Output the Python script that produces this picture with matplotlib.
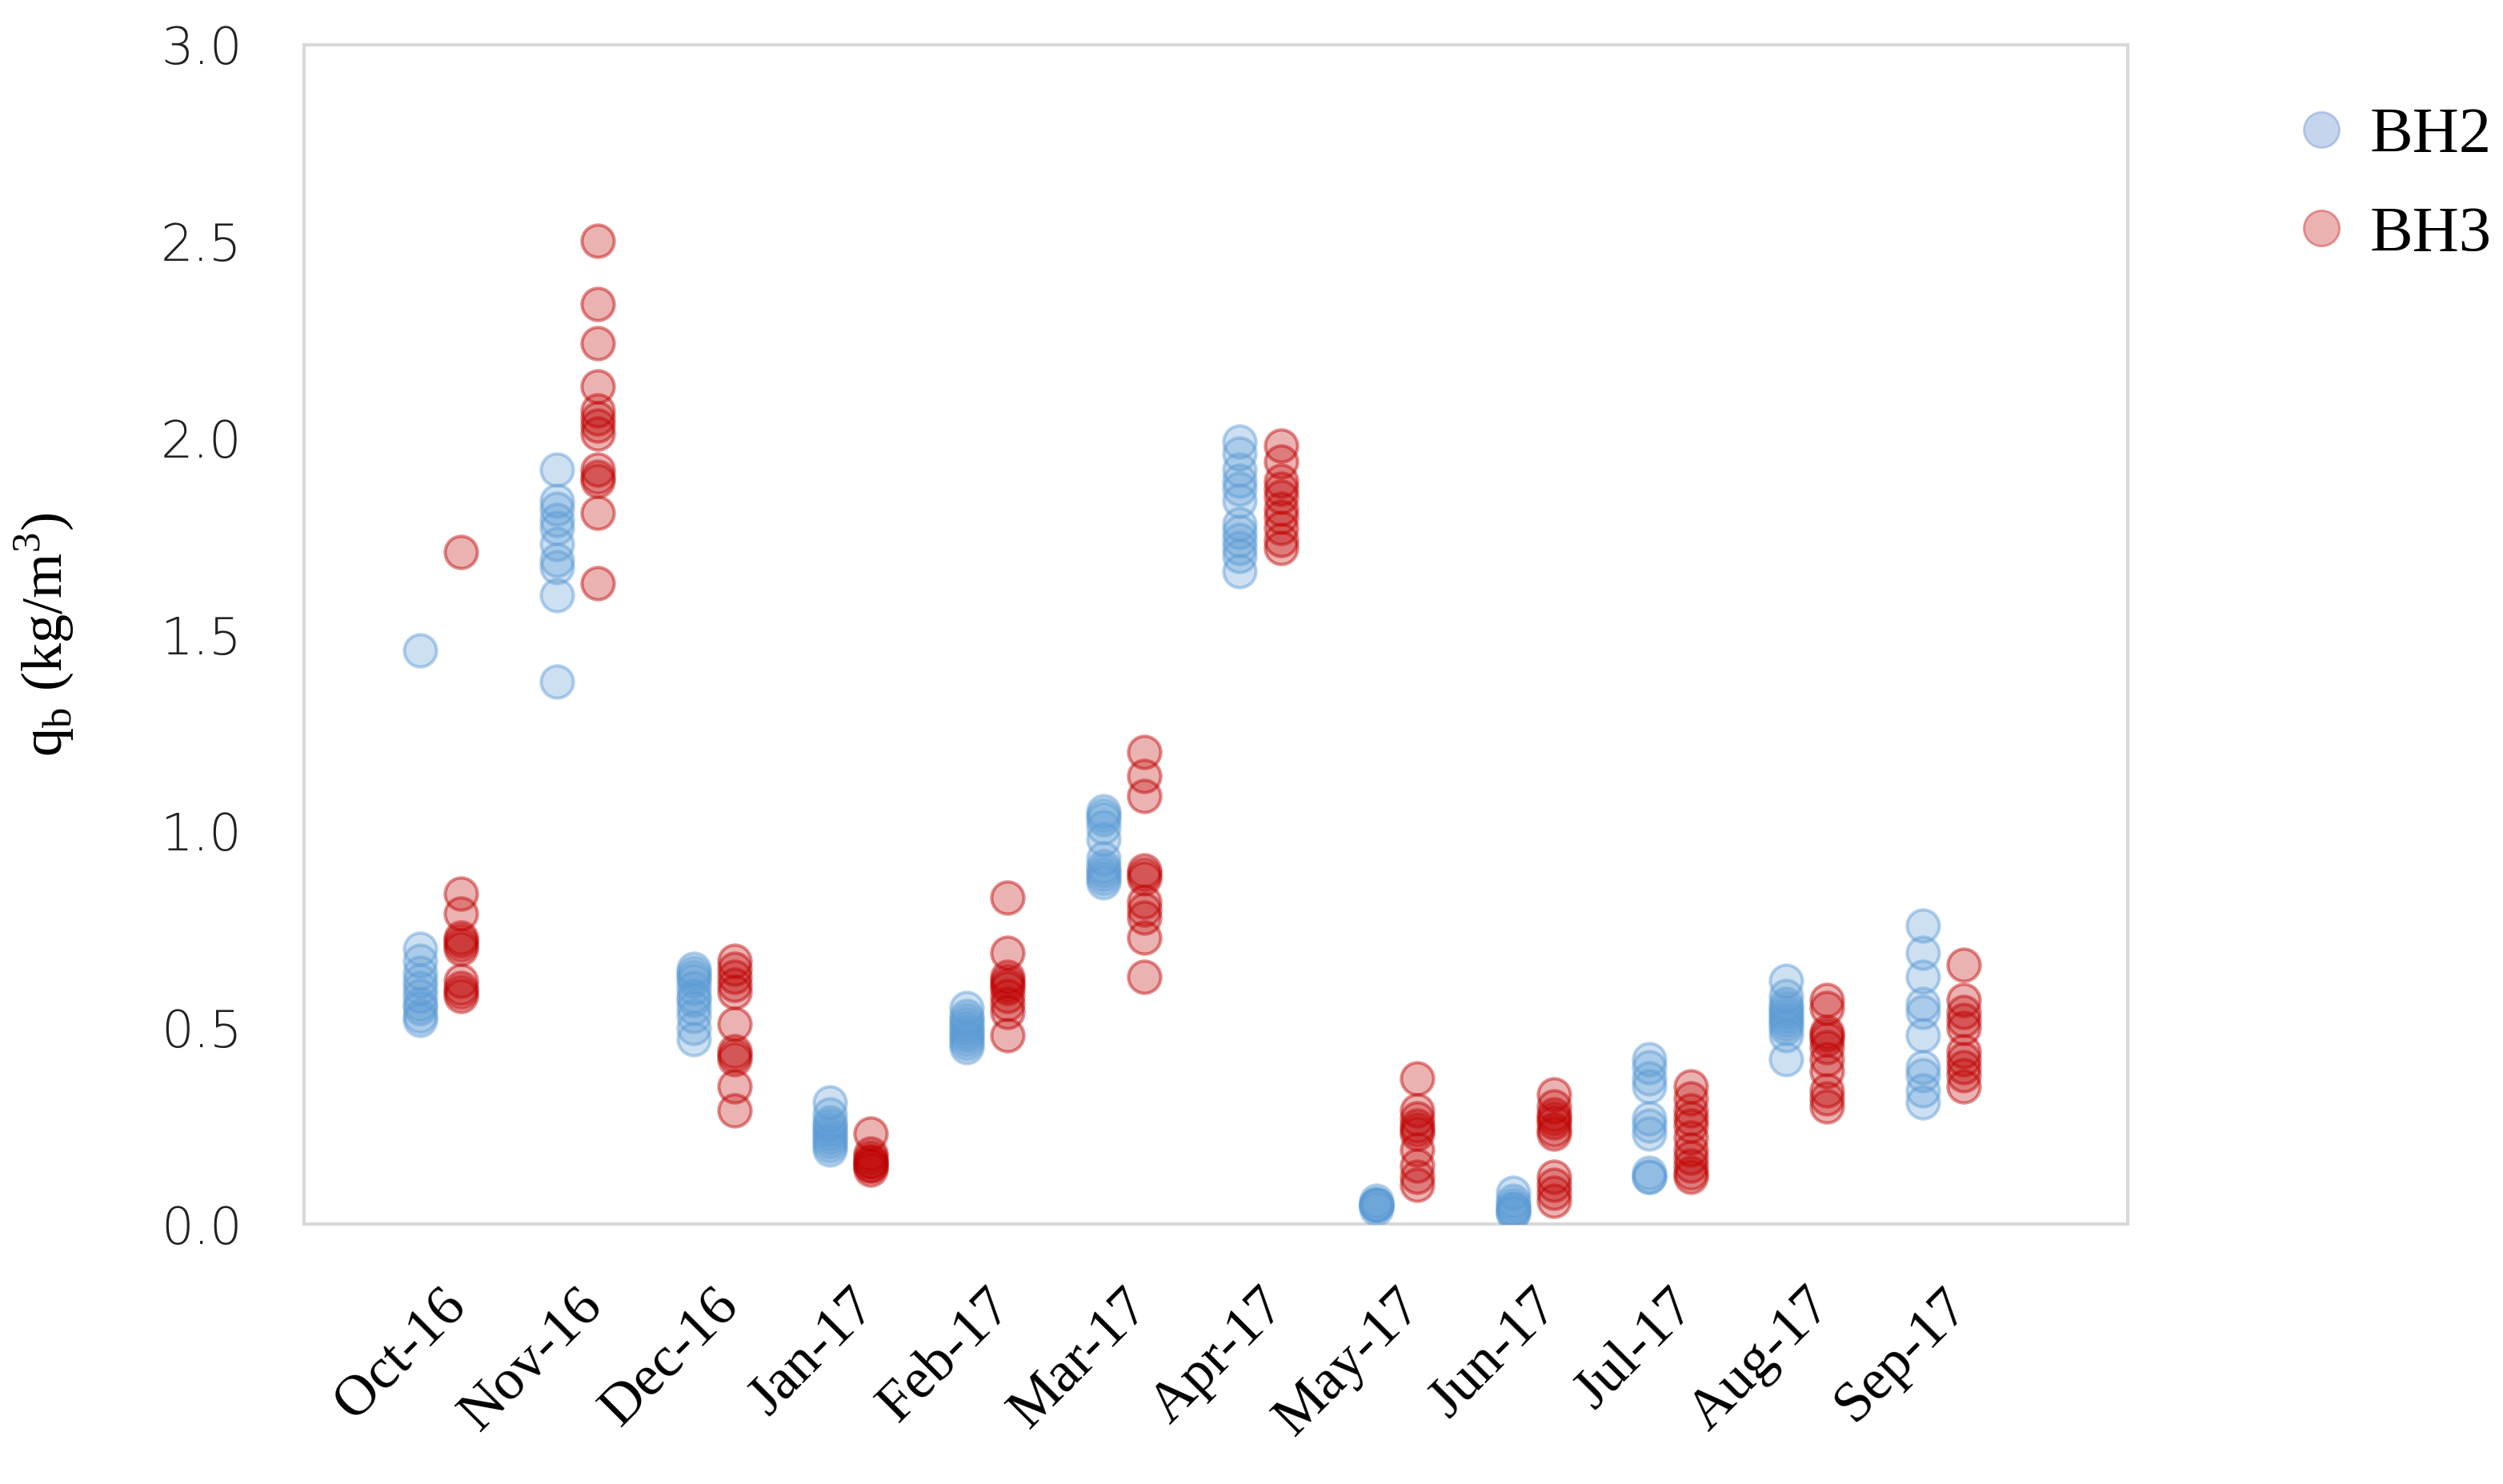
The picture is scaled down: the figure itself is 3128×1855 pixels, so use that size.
import numpy as np
import matplotlib.pyplot as plt
import matplotlib.transforms as mtransforms
from matplotlib.lines import Line2D

months = ['Oct-16', 'Nov-16', 'Dec-16', 'Jan-17', 'Feb-17', 'Mar-17',
          'Apr-17', 'May-17', 'Jun-17', 'Jul-17', 'Aug-17', 'Sep-17']

# q_b values, one list per month
bh2 = [
    [1.46, 0.70, 0.67, 0.64, 0.62, 0.60, 0.58, 0.56, 0.55, 0.53, 0.52],
    [1.92, 1.84, 1.82, 1.79, 1.77, 1.73, 1.69, 1.67, 1.60, 1.38],
    [0.65, 0.64, 0.63, 0.62, 0.60, 0.58, 0.57, 0.55, 0.53, 0.50, 0.47],
    [0.31, 0.28, 0.26, 0.25, 0.24, 0.23, 0.22, 0.21, 0.20, 0.19],
    [0.55, 0.53, 0.52, 0.51, 0.50, 0.49, 0.48, 0.47, 0.46, 0.45],
    [1.05, 1.04, 1.03, 1.01, 0.98, 0.93, 0.91, 0.90, 0.89, 0.88, 0.87],
    [1.99, 1.96, 1.92, 1.89, 1.87, 1.84, 1.78, 1.76, 1.74, 1.72, 1.70, 1.66],
    [0.06, 0.05, 0.05, 0.05, 0.05, 0.04],
    [0.08, 0.06, 0.05, 0.04, 0.04, 0.03, 0.03],
    [0.42, 0.40, 0.37, 0.35, 0.27, 0.25, 0.23, 0.13, 0.12, 0.12],
    [0.62, 0.58, 0.56, 0.55, 0.54, 0.53, 0.52, 0.51, 0.50, 0.48, 0.42],
    [0.76, 0.69, 0.63, 0.56, 0.54, 0.48, 0.40, 0.38, 0.34, 0.31],
]
bh3 = [
    [1.71, 0.84, 0.79, 0.73, 0.72, 0.71, 0.70, 0.62, 0.60, 0.59, 0.58],
    [2.50, 2.34, 2.24, 2.13, 2.07, 2.05, 2.03, 2.01, 1.92, 1.90, 1.89, 1.81, 1.63],
    [0.67, 0.65, 0.63, 0.61, 0.59, 0.51, 0.44, 0.43, 0.42, 0.35, 0.29],
    [0.23, 0.18, 0.17, 0.16, 0.16, 0.15, 0.15, 0.14],
    [0.83, 0.69, 0.63, 0.62, 0.61, 0.60, 0.58, 0.56, 0.54, 0.48],
    [1.20, 1.14, 1.09, 0.90, 0.89, 0.88, 0.82, 0.80, 0.78, 0.73, 0.63],
    [1.98, 1.94, 1.89, 1.87, 1.85, 1.82, 1.80, 1.77, 1.74, 1.72],
    [0.37, 0.29, 0.27, 0.25, 0.24, 0.23, 0.19, 0.15, 0.12, 0.10],
    [0.33, 0.30, 0.28, 0.27, 0.26, 0.24, 0.23, 0.12, 0.10, 0.08, 0.06],
    [0.35, 0.32, 0.29, 0.27, 0.25, 0.22, 0.19, 0.17, 0.15, 0.13, 0.12],
    [0.57, 0.55, 0.49, 0.48, 0.47, 0.45, 0.42, 0.39, 0.34, 0.32, 0.30],
    [0.66, 0.57, 0.54, 0.52, 0.50, 0.44, 0.42, 0.40, 0.38, 0.35],
]

fig = plt.figure(figsize=(15.64, 9.275), dpi=200)
ax = fig.add_axes([0.1215, 0.175, 0.7285, 0.795])

for i in range(len(months)):
    ax.scatter(np.full(len(bh2[i]), i - 0.15), bh2[i], s=210,
               facecolor=(0.357, 0.608, 0.835, 0.3), edgecolor=(0.357, 0.608, 0.835, 0.45),
               linewidth=1.5, zorder=3)
    ax.scatter(np.full(len(bh3[i]), i + 0.15), bh3[i], s=210,
               facecolor=(0.753, 0.0, 0.0, 0.3), edgecolor=(0.753, 0.0, 0.0, 0.45),
               linewidth=1.5, zorder=3)

ax.set_xlim(-1.0, 12.35)
ax.set_ylim(0, 3.0)
ax.tick_params(axis='x', length=0, pad=14)
ax.tick_params(axis='y', length=0, pad=28)
ax.set_yticks(np.arange(0, 3.01, 0.5))
ax.set_yticklabels(['%.1f' % v for v in np.arange(0, 3.01, 0.5)],
                   fontsize=23, family='DejaVu Sans', fontweight='light', color='#222222')
ax.set_xticks(range(len(months)))
ax.set_xticklabels(months, rotation=45, ha='right', va='top', rotation_mode='anchor',
                   fontsize=26, family='Liberation Serif')
# push the slanted month labels a bit lower, like the original
offset = mtransforms.ScaledTranslation(-0.01, -0.15, fig.dpi_scale_trans)
for lab in ax.get_xticklabels():
    lab.set_transform(lab.get_transform() + offset)

for sp in ax.spines.values():
    sp.set_color('#d9d9d9')
    sp.set_linewidth(1.5)

ax.set_ylabel(r'q$_\mathregular{b}$ (kg/m$^\mathregular{3}$)', fontsize=26,
              family='Liberation Serif')
ax.yaxis.set_label_coords(-0.125, 0.5)

handles = [
    Line2D([], [], ls='none', marker='o', markersize=16,
           markerfacecolor=(0.267, 0.447, 0.769, 0.3), markeredgecolor=(0.267, 0.447, 0.769, 0.3)),
    Line2D([], [], ls='none', marker='o', markersize=16,
           markerfacecolor=(0.753, 0.0, 0.0, 0.3), markeredgecolor=(0.753, 0.0, 0.0, 0.35)),
]
fig.legend(handles, ['BH2', 'BH3'], loc='upper left', bbox_to_anchor=(0.894, 0.967),
           frameon=False, prop={'family': 'Liberation Serif', 'size': 29},
           labelspacing=0.62, handlelength=0.8, handletextpad=0.35)

fig.savefig('out.png', dpi=200)
